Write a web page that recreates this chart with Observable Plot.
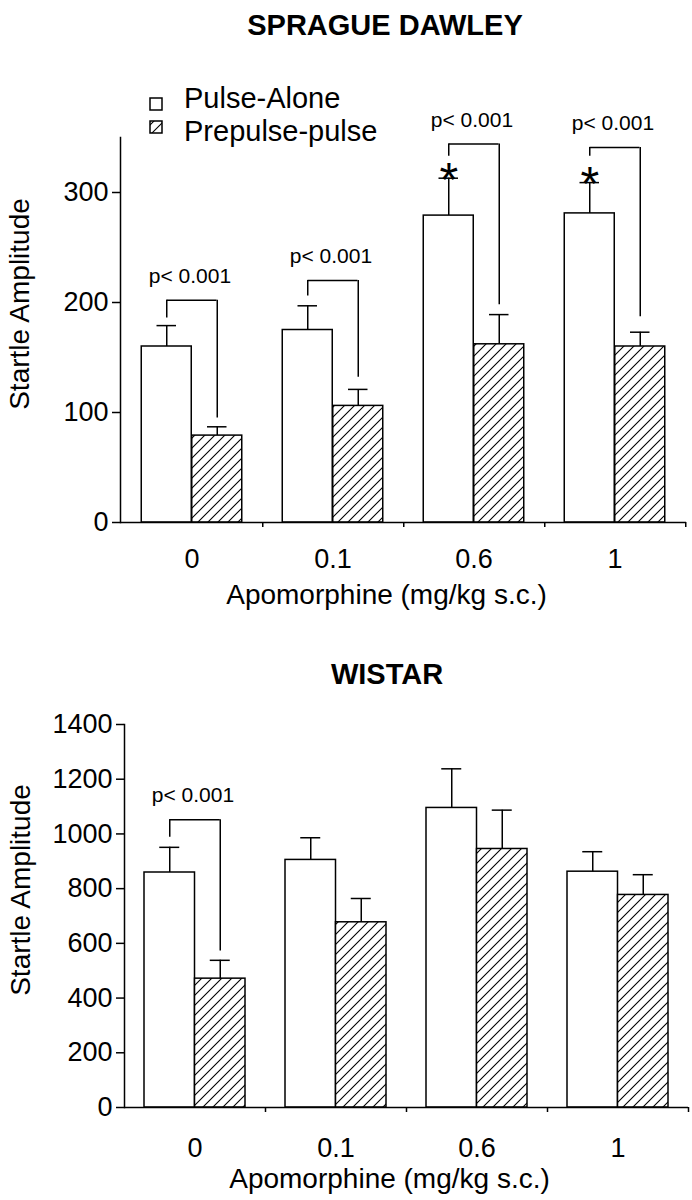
<!DOCTYPE html>
<html>
<head>
<meta charset="utf-8">
<script src="https://cdn.jsdelivr.net/npm/d3@7"></script>
<script src="https://cdn.jsdelivr.net/npm/@observablehq/plot@0.6"></script>
<style>
  body { margin: 0; background: #fff; }
  #root { position: relative; width: 692px; height: 1200px; overflow: hidden; background: #fff;
          font-family: "Liberation Sans", Arial, Helvetica, sans-serif; color: #000; }
  .title { position: absolute; left: 0; width: 692px; text-align: center; font-weight: bold;
           font-size: 29px; line-height: 29px; white-space: nowrap; z-index: 2; }
  .panel { position: absolute; left: 0; z-index: 1; }
  .leg { position: absolute; font-size: 29px; line-height: 29px; white-space: nowrap; z-index: 2; }
</style>
</head>
<body>
<svg width="0" height="0" style="position:absolute">
  <defs>
    <pattern id="hatch" patternUnits="userSpaceOnUse" width="10" height="10">
      <rect width="10" height="10" fill="white"/>
      <path d="M-2.5,2.5 L2.5,-2.5 M0,10 L10,0 M7.5,12.5 L12.5,7.5" stroke="black" stroke-width="1.1"/>
    </pattern>
  </defs>
</svg>
<div id="root"></div>
<script>
// ---------- data ----------
const doses = ["0", "0.1", "0.6", "1"];
const seriesNames = ["Pulse-Alone", "Prepulse-pulse"];

// Sprague Dawley (means and top of error bars)
const sdPulseAlone    = [160, 175, 279, 281];
const sdPulseAloneErr = [179, 197, 313, 309];
const sdPrepulse      = [79, 106, 162, 160];
const sdPrepulseErr   = [87, 121, 189, 173];
const sdYTicks = [0, 100, 200, 300];
const sdYMax = 350;
// significance brackets: dose, bracket level, left leg end, right leg end
const sdBracketDose  = ["0", "0.1", "0.6", "1"];
const sdBracketTop   = [202, 220, 344, 341];
const sdBracketLeft  = [186, 206, 333, 333];
const sdBracketRight = [95, 132, 198, 187];
const sdStarDoses = ["0.6", "1"];

// Wistar
const wPulseAlone    = [859, 905, 1095, 862];
const wPulseAloneErr = [951, 986, 1238, 935];
const wPrepulse      = [471, 677, 945, 777];
const wPrepulseErr   = [538, 764, 1087, 851];
const wYTicks = [0, 200, 400, 600, 800, 1000, 1200, 1400];
const wYMax = 1400;
const wBracketDose  = ["0"];
const wBracketTop   = [1052];
const wBracketLeft  = [988];
const wBracketRight = [572];
const wStarDoses = [];

const pLabel = "p< 0.001";
const xLabel = "Apomorphine (mg/kg s.c.)";
const yLabel = "Startle Amplitude";
const titles = ["SPRAGUE DAWLEY", "WISTAR"];

// ---------- drawing ----------
const FONT = '"Liberation Sans", Arial, Helvetica, sans-serif';

function panel(cfg) {
  const width = 692;
  const bw = (width - cfg.marginLeft - cfg.marginRight) / doses.length;
  const half = bw / 2;
  const barW = 50.5;
  const capHalf = 10;
  const rows = doses.map((d, i) => ({
    dose: d, pulse: cfg.pulse[i], pulseErr: cfg.pulseErr[i], pre: cfg.pre[i], preErr: cfg.preErr[i]
  }));
  const br = cfg.bDose.map((d, i) => ({dose: d, top: cfg.bTop[i], left: cfg.bLeft[i], right: cfg.bRight[i]}));
  const stars = rows.filter(r => cfg.stars.includes(r.dose));
  const sw = 1.5;
  return Plot.plot({
    width, height: cfg.height,
    marginLeft: cfg.marginLeft, marginRight: cfg.marginRight,
    marginTop: cfg.marginTop, marginBottom: cfg.marginBottom,
    style: {fontFamily: FONT, fontSize: "27px", color: "black", background: "transparent", overflow: "visible"},
    x: {type: "band", domain: doses, padding: 0, axis: null, label: null},
    y: {domain: [0, cfg.yMax], axis: null, label: null},
    marks: [
      Plot.barY(rows, {x: "dose", y: "pulse", fill: "white", stroke: "black", strokeWidth: sw,
                       insetLeft: half - barW, insetRight: half}),
      Plot.barY(rows, {x: "dose", y: "pre", fill: "url(#hatch)", stroke: "black", strokeWidth: sw,
                       insetLeft: half, insetRight: half - barW}),
      // error bars
      Plot.ruleX(rows, {x: "dose", y1: "pulse", y2: "pulseErr", dx: -barW / 2, strokeWidth: sw}),
      Plot.tickY(rows, {x: "dose", y: "pulseErr", strokeWidth: sw,
                        insetLeft: half - barW / 2 - capHalf, insetRight: half + barW / 2 - capHalf}),
      Plot.ruleX(rows, {x: "dose", y1: "pre", y2: "preErr", dx: barW / 2, strokeWidth: sw}),
      Plot.tickY(rows, {x: "dose", y: "preErr", strokeWidth: sw,
                        insetLeft: half + barW / 2 - capHalf, insetRight: half - barW / 2 - capHalf}),
      // significance brackets
      Plot.tickY(br, {x: "dose", y: "top", strokeWidth: sw,
                      insetLeft: half - barW / 2, insetRight: half - barW / 2}),
      Plot.ruleX(br, {x: "dose", y1: "top", y2: "left", dx: -barW / 2, strokeWidth: sw}),
      Plot.ruleX(br, {x: "dose", y1: "top", y2: "right", dx: barW / 2, strokeWidth: sw}),
      Plot.text(br, {x: "dose", y: "top", text: () => pLabel, dy: -24, dx: -2, fontSize: 21, lineAnchor: "middle"}),
      // asterisks
      Plot.text(stars, {x: "dose", y: "pulseErr", text: () => "*", dx: -barW / 2, dy: 2, fontSize: 48, lineAnchor: "middle"}),
      // axes
      Plot.frame({anchor: "left", strokeWidth: sw}),
      Plot.ruleY([0], {strokeWidth: sw}),
      Plot.axisY({ticks: cfg.yTicks, tickFormat: d3.format("d"), tickSize: 8, tickPadding: 4, fontSize: 27, label: null, strokeWidth: sw}),
      Plot.axisX({tickSize: 0, tickPadding: cfg.xTickPad, fontSize: 27, label: null}),
      Plot.axisX({tickSize: 5, tickFormat: () => "", dx: half, label: null, strokeWidth: sw}),
      Plot.text([xLabel], {frameAnchor: "bottom", dy: cfg.xLabelDy, dx: -17, fontSize: 28, lineAnchor: "top"}),
      Plot.text([yLabel], {frameAnchor: "left", rotate: -90, textAnchor: "middle", dx: cfg.yLabelDx, dy: -26, fontSize: 28, lineAnchor: "middle"})
    ]
  });
}

const root = document.getElementById("root");

function addDiv(cls, text, styles) {
  const d = document.createElement("div");
  d.className = cls;
  if (text != null) d.textContent = text;
  Object.assign(d.style, styles);
  root.appendChild(d);
  return d;
}

// Top panel
const sdChart = panel({
  pulse: sdPulseAlone, pulseErr: sdPulseAloneErr, pre: sdPrepulse, preErr: sdPrepulseErr,
  bDose: sdBracketDose, bTop: sdBracketTop, bLeft: sdBracketLeft, bRight: sdBracketRight,
  stars: sdStarDoses, yTicks: sdYTicks, yMax: sdYMax,
  height: 610, marginLeft: 120, marginRight: 6, marginTop: 137, marginBottom: 88,
  xTickPad: 26, xLabelDy: 62, yLabelDx: -100
});
const sdWrap = addDiv("panel", null, {top: "0px"});
sdWrap.appendChild(sdChart);

// Bottom panel
const wChart = panel({
  pulse: wPulseAlone, pulseErr: wPulseAloneErr, pre: wPrepulse, preErr: wPrepulseErr,
  bDose: wBracketDose, bTop: wBracketTop, bLeft: wBracketLeft, bRight: wBracketRight,
  stars: wStarDoses, yTicks: wYTicks, yMax: wYMax,
  height: 590, marginLeft: 124, marginRight: 4, marginTop: 114, marginBottom: 93,
  xTickPad: 30, xLabelDy: 61, yLabelDx: -103
});
const wWrap = addDiv("panel", null, {top: "610px"});
wWrap.appendChild(wChart);

// Titles
addDiv("title", titles[0], {top: "10.5px", left: "39px"});
addDiv("title", titles[1], {top: "659.5px", left: "41px"});

// Legend (top panel)
const legSvg = d3.create("svg").attr("width", 20).attr("height", 50)
  .style("position", "absolute").style("left", "149px").style("top", "96px").style("z-index", 2);
legSvg.append("rect").attr("x", 1).attr("y", 2).attr("width", 12).attr("height", 12)
  .attr("fill", "white").attr("stroke", "black").attr("stroke-width", 1.5);
legSvg.append("rect").attr("x", 1).attr("y", 25).attr("width", 12).attr("height", 12)
  .attr("fill", "url(#hatch)").attr("stroke", "black").attr("stroke-width", 1.5);
root.appendChild(legSvg.node());
addDiv("leg", seriesNames[0], {left: "184px", top: "83.5px"});
addDiv("leg", seriesNames[1], {left: "184px", top: "116.5px"});
</script>
</body>
</html>
